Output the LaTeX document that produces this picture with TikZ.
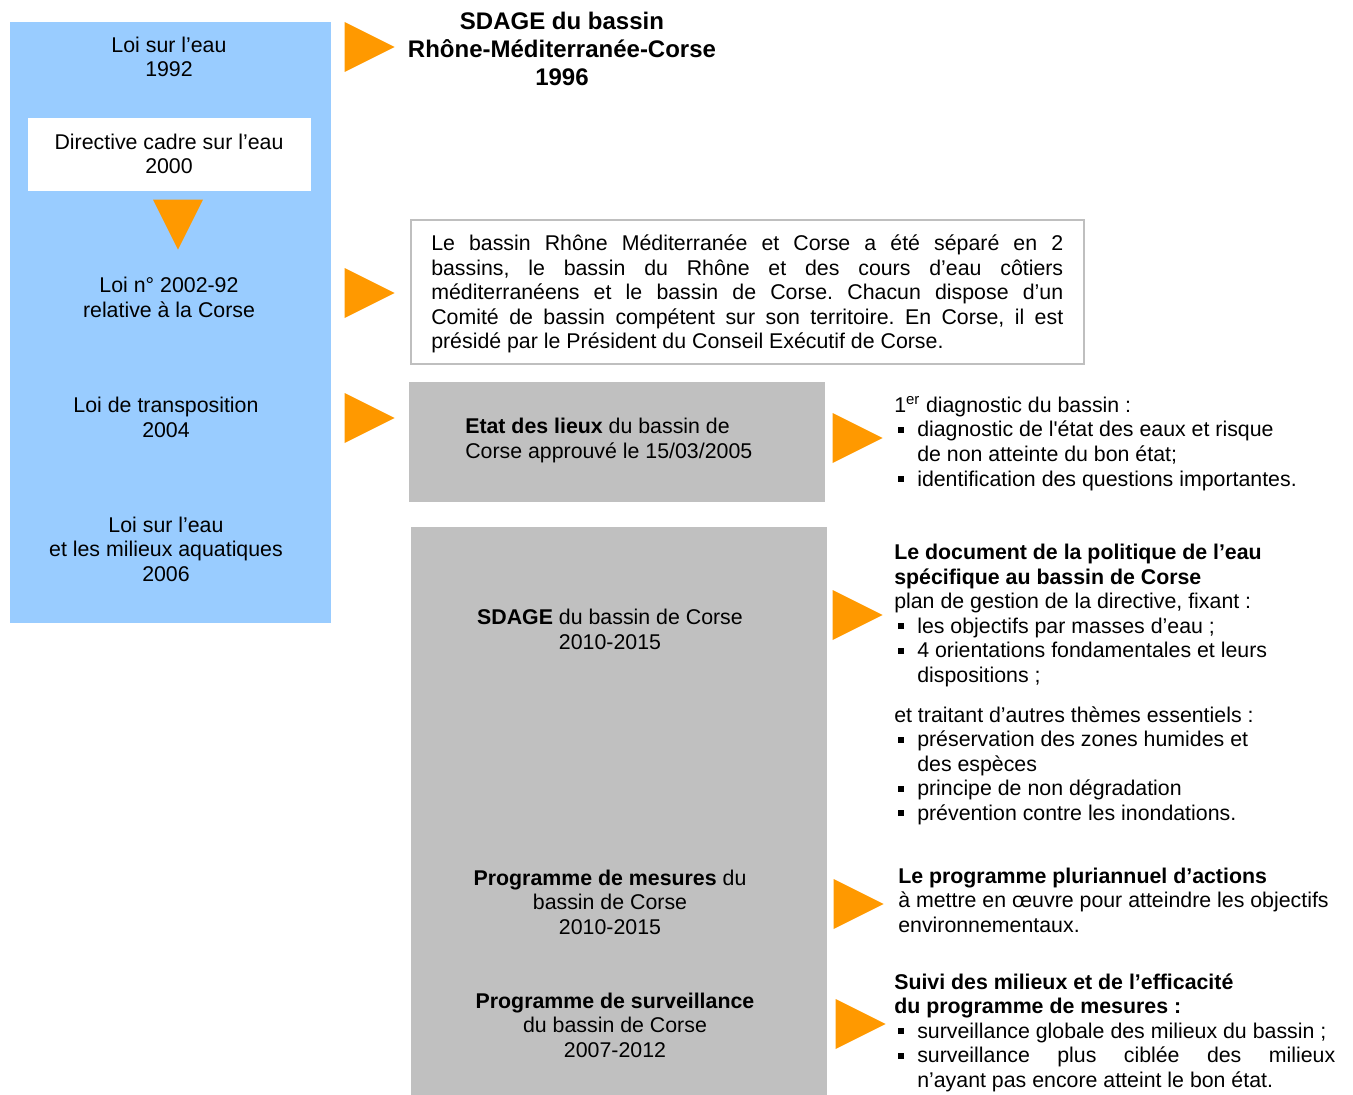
\documentclass[tikz,border=0pt]{standalone}
\usepackage{fontspec}
\setmainfont{Liberation Sans}
\usetikzlibrary{shapes}
\definecolor{sky}{RGB}{153,204,255}
\definecolor{tangerine}{RGB}{255,153,0}
\definecolor{silver}{RGB}{192,192,192}
\definecolor{framegray}{RGB}{191,191,191}
\frenchspacing
\newcommand{\sqbul}{\makebox[17.25pt][l]{\hspace{3pt}\rule[3.2pt]{4.5pt}{4.5pt}}}
\newcommand{\indt}{\hspace*{17.25pt}}
% multi-line nodes sit on the baseline of their last line
\tikzstyle{law} = [align=center, inner sep=0pt, anchor=base,
  font=\fontsize{16}{18.4}\selectfont]
\tikzstyle{note} = [align=left, inner sep=0pt, anchor=base west,
  font=\fontsize{16}{18.4}\selectfont]
\tikzstyle{pointer} = [isosceles triangle, isosceles triangle stretches,
  fill=tangerine, inner sep=0pt, outer sep=0pt, minimum width=37.5pt, minimum height=37.5pt]
\tikzstyle{panel} = [rectangle, fill=silver, inner sep=0pt, minimum width=312pt]

\begin{document}
\begin{tikzpicture}[x=0.75pt, y=-0.75pt]
  \useasboundingbox (0,0) rectangle (1353,1095);

  % backgrounds
  \node [rectangle, fill=sky, minimum width=240.75pt, minimum height=450.75pt, inner sep=0pt] (laws) at (170.5,322.5) {};
  \node [rectangle, fill=white, minimum width=212.25pt, minimum height=54.75pt, inner sep=0pt] (dceBox) at (169.5,154.5) {};
  \node [rectangle, draw=framegray, line width=1.2pt, fill=white, minimum width=504.75pt, minimum height=108pt, inner sep=0pt] (splitBox) at (747.5,292) {};
  \node [panel, minimum height=90pt] (edlBox) at (617,442) {};
  \node [panel, minimum height=426pt] (planBox) at (619,811) {};

  % left column
  \node [law] (loi92) at (169,77) {Loi sur l’eau\\1992};
  \node [law] (dce) at (169,174) {Directive cadre sur l’eau\\2000};
  \node [law] (loi02) at (169,317) {Loi n° 2002-92\\relative à la Corse};
  \node [law] (loi04) at (166,437) {Loi de transposition\\2004};
  \node [law] (loi06) at (166,581.5) {Loi sur l’eau\\et les milieux aquatiques\\2006};

  % pointers
  \node [pointer] (p92) at (360,47) {};
  \node [pointer, shape border rotate=270] (pdce) at (178,215) {};
  \node [pointer] (p02) at (360,293) {};
  \node [pointer] (p04) at (360,418) {};
  \node [pointer] (pedl) at (848,438) {};
  \node [pointer] (psdage) at (848,615) {};
  \node [pointer] (ppdm) at (849,904) {};
  \node [pointer] (psurv) at (851,1024) {};

  % middle
  \node [law, font=\fontsize{18}{21}\selectfont\bfseries] (sdage96) at (562,86) {SDAGE du bassin\\Rhône-Méditerranée-Corse\\1996};
  \node [note, text width=474pt, align=justify] (split) at (431,250.5) {Le bassin Rhône Méditerranée et Corse a été séparé en 2\linebreak
    bassins, le bassin du Rhône et des cours d’eau côtiers\linebreak
    méditerranéens et le bassin de Corse. Chacun dispose d’un\linebreak
    Comité de bassin compétent sur son territoire. En Corse, il est\linebreak
    présidé par le Président du Conseil Exécutif de Corse.};
  \node [note] (edl) at (465,458) {\textbf{Etat des lieux} du bassin de\\Corse approuvé le 15/03/2005};
  \node [law] (sdage) at (610,649) {\textbf{SDAGE} du bassin de Corse\\2010-2015};
  \node [law] (pdm) at (610,934.5) {\textbf{Programme de mesures} du\\bassin de Corse\\2010-2015};
  \node [law] (surv) at (615,1057.5) {\textbf{Programme de surveillance}\\du bassin de Corse\\2007-2012};

  % right column
  \node [note] (diag) at (894,486) {1\textsuperscript{er} diagnostic du bassin :\\
    \sqbul diagnostic de l\textquotesingle état des eaux et risque\\
    \indt de non atteinte du bon état;\\
    \sqbul identification des questions importantes.};
  \node [note] (politique) at (894,820.5) {\textbf{Le document de la politique de l’eau}\\
    \textbf{spécifique au bassin de Corse}\\
    plan de gestion de la directive, fixant :\\
    \sqbul les objectifs par masses d’eau ;\\
    \sqbul 4 orientations fondamentales et leurs\\
    \indt dispositions ;\\[11.6pt]
    et traitant d’autres thèmes essentiels :\\
    \sqbul préservation des zones humides et\\
    \indt des espèces\\
    \sqbul principe de non dégradation\\
    \sqbul prévention contre les inondations.};
  \node [note] (actions) at (898,932.5) {\textbf{Le programme pluriannuel d’actions}\\
    à mettre en œuvre pour atteindre les objectifs\\
    environnementaux.};
  \node [note] (suivi) at (894,1087.5) {\textbf{Suivi des milieux et de l’efficacité}\\
    \textbf{du programme de mesures :}\\
    \sqbul surveillance globale des milieux du bassin ;\\
    \sqbul\makebox[313.5pt][s]{surveillance plus ciblée des milieux}\\
    \indt n’ayant pas encore atteint le bon état.};

\end{tikzpicture}
\end{document}
